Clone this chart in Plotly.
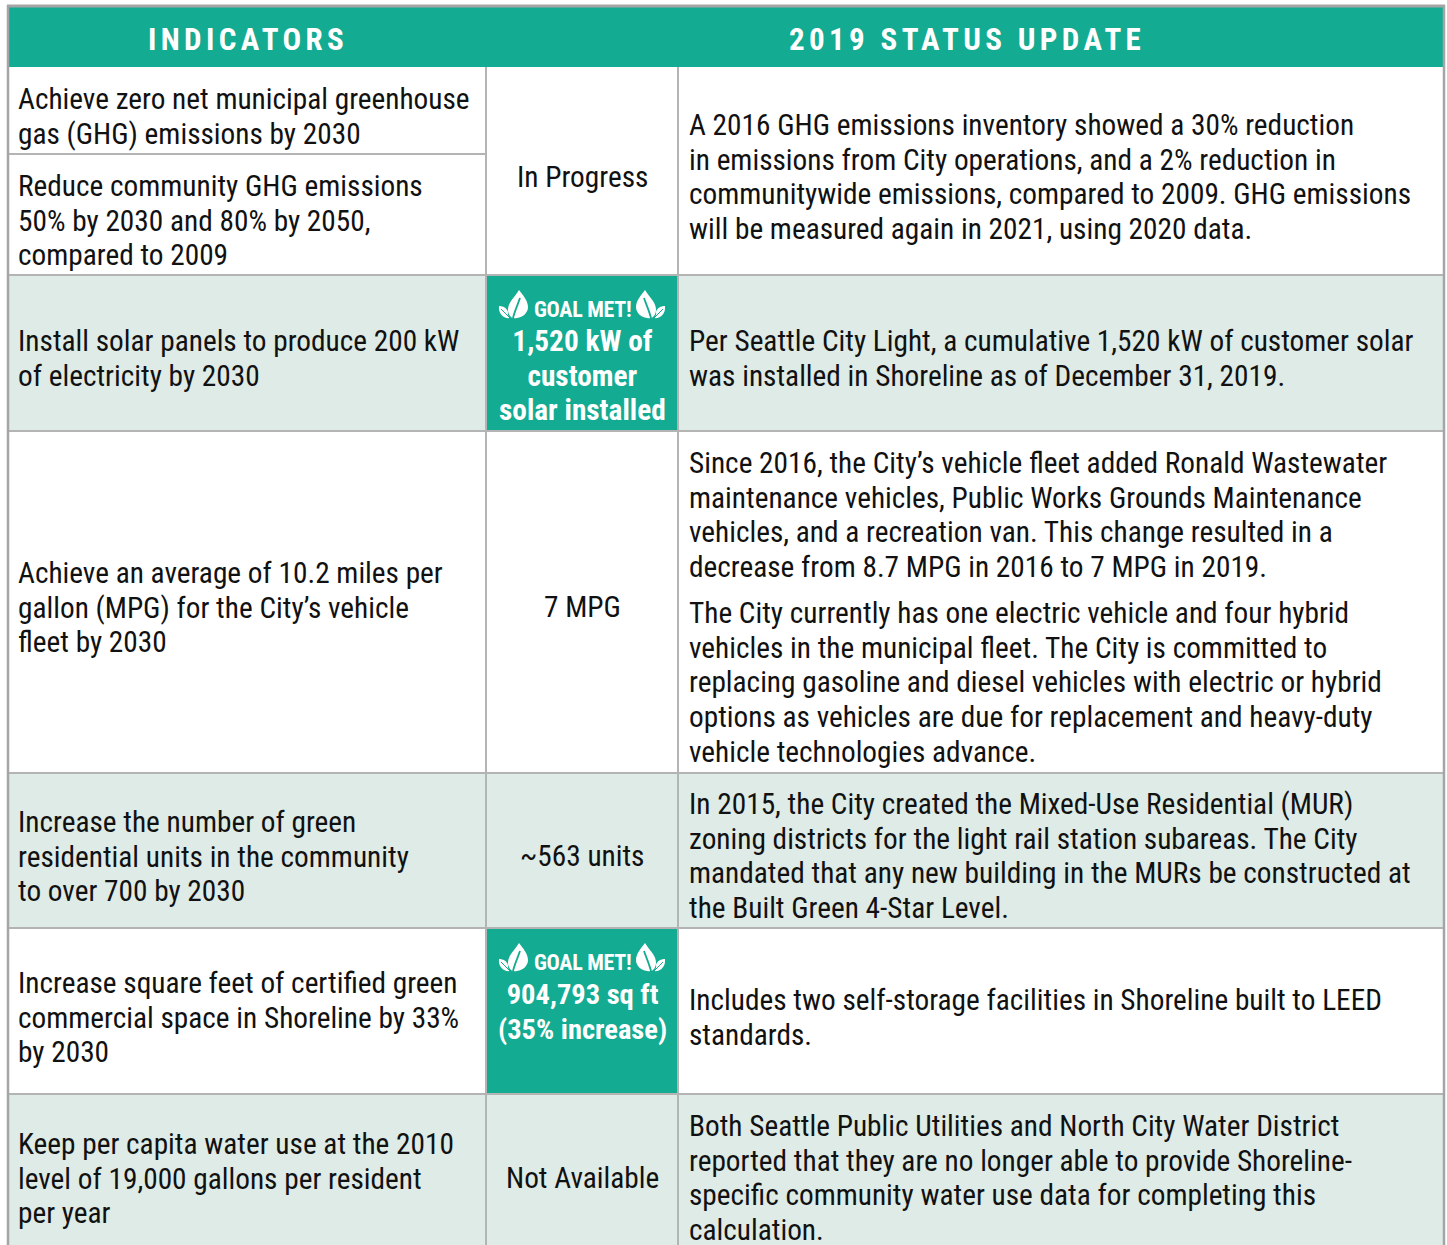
import plotly.graph_objects as go

W, H = 1447, 1245
FONT = "Roboto Condensed, Liberation Sans Narrow, Roboto, sans-serif"
TEAL = "#13AB92"
PALE = "#DEEBE6"
LINE = "#B4B4B4"
INK = "#111111"

headers = ["INDICATORS", "2019 STATUS UPDATE"]
indicators = [
    ("Achieve zero net municipal greenhouse<br>gas (GHG) emissions by 2030", 116),
    ("Reduce community GHG emissions<br>50% by 2030 and 80% by 2050,<br>compared to 2009", 220),
    ("Install solar panels to produce 200 kW<br>of electricity by 2030", 358),
    ("Achieve an average of 10.2 miles per<br>gallon (MPG) for the City’s vehicle<br>fleet by 2030", 607),
    ("Increase the number of green<br>residential units in the community<br>to over 700 by 2030", 856),
    ("Increase square feet of certified green<br>commercial space in Shoreline by 33%<br>by 2030", 1017),
    ("Keep per capita water use at the 2010<br>level of 19,000 gallons per resident<br>per year", 1178),
]
statuses = [("In Progress", 177), ("7 MPG", 607), ("~563 units", 856), ("Not Available", 1178)]
goals = [("1,520 kW of<br>customer<br>solar installed", 375.5, 309, 29.3), ("904,793 sq ft<br>(35% increase)", 1012, 962, 28.5)]
updates = [
    ("A 2016 GHG emissions inventory showed a 30% reduction<br>in emissions from City operations, and a 2% reduction in<br>communitywide emissions, compared to 2009. GHG emissions<br>will be measured again in 2021, using 2020 data.", 177),
    ("Per Seattle City Light, a cumulative 1,520 kW of customer solar<br>was installed in Shoreline as of December 31, 2019.", 358),
    ("Since 2016, the City’s vehicle fleet added Ronald Wastewater<br>maintenance vehicles, Public Works Grounds Maintenance<br>vehicles, and a recreation van. This change resulted in a<br>decrease from 8.7 MPG in 2016 to 7 MPG in 2019.", 515),
    ("The City currently has one electric vehicle and four hybrid<br>vehicles in the municipal fleet. The City is committed to<br>replacing gasoline and diesel vehicles with electric or hybrid<br>options as vehicles are due for replacement and heavy-duty<br>vehicle technologies advance.", 682.5),
    ("In 2015, the City created the Mixed-Use Residential (MUR)<br>zoning districts for the light rail station subareas. The City<br>mandated that any new building in the MURs be constructed at<br>the Built Green 4-Star Level.", 856),
    ("Includes two self-storage facilities in Shoreline built to LEED<br>standards.", 1017),
    ("Both Seattle Public Utilities and North City Water District<br>reported that they are no longer able to provide Shoreline-<br>specific community water use data for completing this<br>calculation.", 1178),
]
col_edges = [8, 486, 678, 1444]
row_edges = [67, 275, 431, 773, 928, 1094, 1260]
row_fills = ["white", PALE, "white", PALE, "white", PALE]
goal_rows = [1, 4]


def rect(x0, y0, x1, y1, fill):
    return dict(type="rect", x0=x0, y0=y0, x1=x1, y1=y1, fillcolor=fill, line_width=0, layer="below")


def seg(x0, y0, x1, y1, width=2, color=LINE):
    return dict(type="line", x0=x0, y0=y0, x1=x1, y1=y1, line=dict(color=color, width=width), layer="below")


def leaf(cx, cy, flip):
    s = -1 if flip else 1
    X = lambda v: f"{cx + s * v:.1f}"
    Y = lambda v: f"{cy + v:.1f}"
    P = lambda a, b: f"{X(a)},{Y(b)}"
    big = (f"M{P(1,-14)} C{P(5,-9)} {P(10,-3)} {P(10,3)} C{P(10,9)} {P(5,13)} {P(-1,14)} "
           f"C{P(-4,14.5)} {P(-6,14)} {P(-7,13)} C{P(-11,9)} {P(-11,3)} {P(-7,-3)} C{P(-4,-7)} {P(-1,-11)} {P(1,-14)} Z")
    small = (f"M{P(-19,2)} C{P(-15,2)} {P(-11,4)} {P(-10,8)} C{P(-10.5,10)} {P(-10,12)} {P(-8,14)} "
             f"C{P(-14,15)} {P(-20,10)} {P(-19,2)} Z")
    vein = f"M{P(-5,14)} C{P(-3,6)} {P(0,0)} {P(2,-6)}"
    vein2 = f"M{P(-17,5)} C{P(-14,8)} {P(-11,11)} {P(-8,14)}"
    return [
        dict(type="path", path=big, fillcolor="white", line_width=0),
        dict(type="path", path=small, fillcolor="white", line_width=0),
        dict(type="path", path=vein, line=dict(color=TEAL, width=1.8)),
        dict(type="path", path=vein2, line=dict(color=TEAL, width=1)),
    ]


shapes = [rect(col_edges[0], 7, col_edges[-1], row_edges[0], TEAL)]
for i, fill in enumerate(row_fills):
    shapes.append(rect(col_edges[0], row_edges[i], col_edges[-1], row_edges[i + 1], fill))
for i in goal_rows:
    shapes.append(rect(col_edges[1], row_edges[i], col_edges[2], row_edges[i + 1], TEAL))
for y in row_edges[1:-1]:
    shapes.append(seg(col_edges[0], y, col_edges[-1], y))
shapes.append(seg(col_edges[0], 154, col_edges[1], 154))
for x in col_edges[1:3]:
    shapes.append(seg(x, row_edges[0], x, H))
shapes += [seg(8, 5, 8, H, 2.5, "#A5A5A5"), seg(1444, 5, 1444, H, 2.5, "#A5A5A5"), seg(7, 6, 1445, 6, 3, "#A5A5A5")]

ann = []


def styled(t, size, spacing):
    return "<br>".join(f'<span style="font-size:{size}px;letter-spacing:{spacing}px">{ln}</span>' for ln in t.split("<br>"))


def text(t, x, y, size=26.7, color=INK, anchor="left", bold=False, align="left"):
    ann.append(dict(text=t, x=x, y=y, xref="x", yref="y", xanchor=anchor, yanchor="middle", align=align,
                    showarrow=False, font=dict(family=FONT, size=size, color=color, weight=700 if bold else 400)))


text(styled(headers[0], 31, 4.35), 248, 39, 31, "white", "center", True, "center")
text(styled(headers[1], 31, 4.35), 967, 39, 31, "white", "center", True, "center")
BODY = (29.3, 0)
for t, y in indicators:
    text(styled(t, *BODY), 16, y)
for t, y in statuses:
    text(styled(t, *BODY), 582, y, anchor="center", align="center")
for t, y in updates:
    text(styled(t, *BODY), 686.5, y)
for t, y, gy, size in goals:
    text(styled(t, size, 0), 582, y, 26.7, "white", "center", True, "center")
    text(styled("GOAL MET!", 22, -0.3), 582, gy, 22, "white", "center", True, "center")
    shapes += leaf(518, gy - 5, False) + leaf(646, gy - 5, True)

fig = go.Figure()
fig.update_layout(
    width=W, height=H, margin=dict(l=0, r=0, t=0, b=0), autosize=False,
    paper_bgcolor="white", plot_bgcolor="white", showlegend=False,
    xaxis=dict(range=[0, W], visible=False, fixedrange=True),
    yaxis=dict(range=[H, 0], visible=False, fixedrange=True),
    shapes=shapes, annotations=ann,
)
fig.write_html("out.html", config={"displayModeBar": False},
               post_script="document.body.style.margin='0';document.body.style.overflow='hidden';")
